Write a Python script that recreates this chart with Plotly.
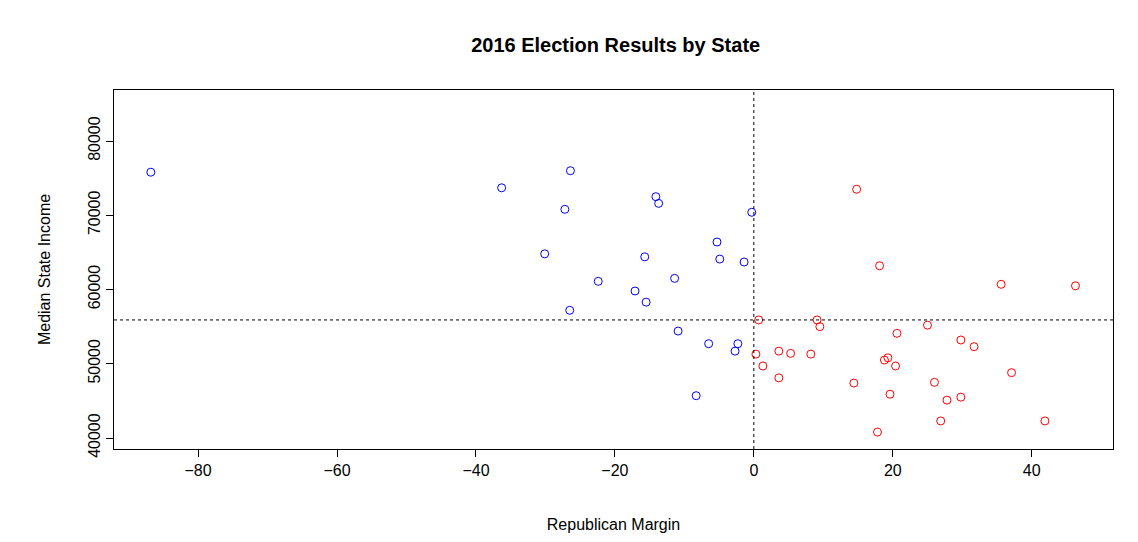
import plotly.graph_objects as go

# Democratic-won states (margin < 0)
dem_margin = [-86.8, -36.3, -26.4, -27.2, -30.1, -14.1, -13.7, -0.3, -5.3, -4.9, -15.7,
              -22.4, -11.4, -1.4, -17.1, -15.5, -26.5, -10.9, -6.5, -2.3, -2.7, -8.3]
dem_income = [75800, 73700, 76000, 70800, 64800, 72500, 71600, 70400, 66400, 64100, 64400,
              61100, 61500, 63700, 59800, 58300, 57200, 54400, 52700, 52700, 51700, 45700]

# Republican-won states (margin > 0)
rep_margin = [14.8, 18.1, 46.3, 35.6, 0.7, 9.1, 9.5, 20.6, 25.0, 29.8, 0.3, 1.3, 3.6, 5.3,
              8.2, 18.8, 19.3, 20.4, 31.7, 3.6, 14.4, 19.6, 26.0, 37.1, 27.8, 29.8, 26.9,
              41.9, 17.8]
rep_income = [73500, 63200, 60500, 60700, 55900, 55900, 55000, 54100, 55200, 53200, 51300,
              49700, 51700, 51400, 51300, 50500, 50800, 49700, 52300, 48100, 47400, 45900,
              47500, 48800, 45100, 45500, 42300, 42300, 40800]

median_income = 55900
x_ticks = [-80, -60, -40, -20, 0, 20, 40]
y_ticks = [40000, 50000, 60000, 70000, 80000]

fig = go.Figure()
for xs, ys, col in [(dem_margin, dem_income, "blue"), (rep_margin, rep_income, "red")]:
    fig.add_trace(go.Scatter(x=xs, y=ys, mode="markers",
                             marker=dict(symbol="circle-open", size=8, color=col,
                                         line=dict(width=1, color=col)),
                             showlegend=False))

fig.add_hline(y=median_income, line=dict(color="black", width=1, dash="3px,3px"))
fig.add_vline(x=0, line=dict(color="black", width=1, dash="3px,3px"))

axis_common = dict(showgrid=False, zeroline=False, showline=True, mirror=True,
                   linecolor="black", linewidth=1, ticks="outside", ticklen=7,
                   tickcolor="black", tickfont=dict(size=16), automargin=False)
fig.update_xaxes(range=[-92.1, 51.7], tickvals=x_ticks,
                 ticktext=[str(t).replace("-", "\u2212") for t in x_ticks],
                 title=dict(text="Republican Margin", font=dict(size=16), standoff=40),
                 **axis_common)
fig.update_yaxes(range=[38520, 86870], tickvals=y_ticks,
                 ticktext=[str(t) for t in y_ticks], tickangle=-90,
                 title=dict(text="Median State Income", font=dict(size=16), standoff=30),
                 **axis_common)

fig.update_layout(
    width=1138, height=542,
    margin=dict(l=106, r=33, t=82, b=101),
    plot_bgcolor="white", paper_bgcolor="white",
    font=dict(family="Liberation Sans, Arial, sans-serif", color="black"),
    title=dict(text="<b>2016 Election Results by State</b>", x=0.534, xanchor="center",
               y=0.932, yanchor="middle", font=dict(size=20)),
)

fig.write_html("out.html")
